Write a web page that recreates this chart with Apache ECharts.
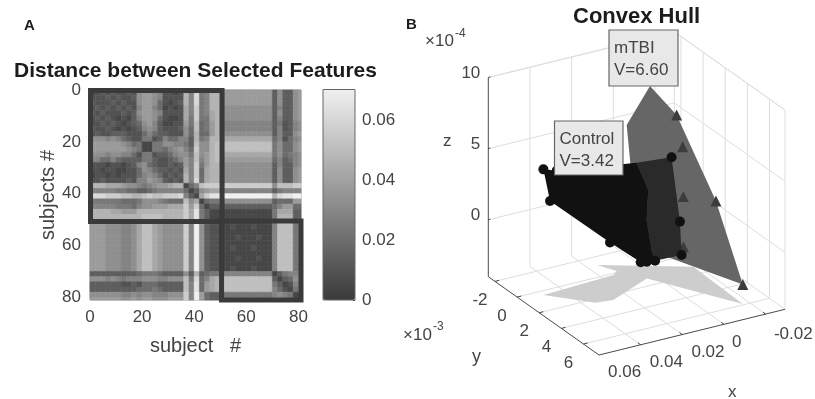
<!DOCTYPE html>
<html><head><meta charset="utf-8">
<style>html,body{margin:0;padding:0;background:#fff}#c{width:815px;height:399px;filter:blur(0.7px)}</style>
<script src="https://cdn.jsdelivr.net/npm/echarts@6/dist/echarts.min.js"></script>
</head><body><div id="c"></div>
<script>
/* ---------- panel A: distance matrix, gray level 0-f per 2-subject cell ---------- */
var matrixRows = [
"123232232788762212a6d56aa8888888888373378",
"222323223788762222a6d56aa8888888888373378",
"322232322788742123a6d56aa8888888888373378",
"23232323268864121296c56aa7777777777363378",
"32322232378876222296c569a7777777777373378",
"23232121368874211295c559a7777777777363378",
"22323212347863112285b458a6666666666352367",
"32232121236763222374b458a6666666666362367",
"23223332224643322274a448a7777777777363378",
"77767643225523644663a56aa9999999999462467",
"88888876451155776653b77abbbbbbbbbbb574478",
"88888887651155467864c77abbbbbbbbbbb574478",
"77767766425523346775b78ab9999999999574567",
"66446433335532234686b68ab8888888888463467",
"22212212367432232386c58aa7777777777363367",
"22122112247643323296c49aa7777777777373378",
"122121222467642323a6c49aa7777777777373378",
"223222232668763232a6d49aa7777777777373378",
"aaa9998776567889aa146bccccccccccccc7bbbcc",
"66666554433456666641378996666666666356666",
"dddcccbbaabcbbcccd6319ceeffffffffffadeeff",
"555555444577765444b7914557777777777344488",
"666665554677888999c8c41333333333333468844",
"aaaa99888aaaaaaaaac9e53111111111111599933",
"aaaaaaaaaabbbbaaaac9e531111111111115aaa33",
"8887776679bb987777c6f732211111111116bbb55",
"8887776679bb987777c6f732211211121116bbb55",
"8887776679bb987777c6f732211111111116bbb55",
"8887776679bb987777c6f732211121112116bbb55",
"8887776679bb987777c6f732211111111116bbb55",
"8887776679bb987777c6f732211211121116bbb55",
"8887776679bb987777c6f732211111111116bbb55",
"8887776679bb987777c6f732211121112116bbb55",
"8887776679bb987777c6f732211111111116bbb55",
"8887776679bb987777c6f732211211121116bbb55",
"33333333345554333373a34556666666666135666",
"777676566677766777b5d469abbbbbbbbbb313477",
"333333223244433333b6e489abbbbbbbbbb531266",
"333333333444543333b6e489abbbbbbbbbb642155",
"777777667677666777c6f84335555555555676511",
"888888778788777888c6f84335555555555676511"
];
var cellSize = 2, maxDistance = 0.07;
var blocks = [[0.2, 0.2, 50.7, 50.7], [50.5, 50.5, 81, 81]];

/* ---------- panel B: hull vertices (x, y e-3, z e-4) ---------- */
var mtbiX = [.0162,.0034,.0005,.0055,.0058,.0031,.0108,.0188,.0316,.0327];
var mtbiY = [0,0,0,1,4,5.92,2,2,2,1];
var mtbiZ = [8.54,6.04,3.71,.93,2.28,-2.62,-1.85,-2.26,-2.27,6.94];
var mtbiOutline = [0,1,4,5,7,8,9];
var mtbiMarked = [1,2,3,4,5,6];
var ctrlX = [.0696,.0636,.0663,.046,.0334,.0305,.0265,.0122,.0082,.0074,.029,.0234,.0242,.0218];
var ctrlY = [.42,.5,.4,2,2.4,2.4,2.4,1.2,1.2,1.2,1.2,1.2,1.2,1.2];
var ctrlZ = [4.83,4.57,2.48,-.28,-1.91,-1.98,-2.05,4.05,-.62,-2.99,4.27,2.15,.07,-2.12];
var ctrlFront = [0,1,10,11,12,13,6,5,4,3,2];
var ctrlSide = [10,7,8,9,6,13,12,11];
var ctrlMarked = [0,1,2,3,4,5,6,7,8,9];
var shadowX = [.0696,.0551,.0472,.0244,.0031,.0019,.0354,.0314,.0346];
var shadowY = [.42,2.35,2.52,1.25,5.92,1.23,-1.19,-.15,.16];
var xLim = [-0.0093, 0.08], yLim = [-2.6, 7.4], zLim = [-4, 10];
var xTicks = [0.06, 0.04, 0.02, 0];
var xTickLabels = ["0.06", "0.04", "0.02", "0", "-0.02"];
var xLabelAt = [0.06, 0.04, 0.02, 0, -0.02];
var yTicks = [-2, 0, 2, 4, 6];
var zTicks = [0, 5, 10];

function project(x, y, z) {
  return [599 + (xLim[1] - x) * 2083 + (y - yLim[1]) * 11.07,
          355 - (xLim[1] - x) * 511.7 + (y - yLim[1]) * 7.83 - (z - zLim[0]) * 14.23];
}
function pts(list, X, Y, Z) { return list.map(function (i) { return project(X[i], Y[i], Z ? Z[i] : zLim[0]); }); }

var cells = [];
matrixRows.forEach(function (row, r) {
  for (var c = 0; c < row.length; c++)
    cells.push([c * cellSize, r * cellSize, parseInt(row[c], 16) / 15 * maxDistance]);
});

var gridColor = '#dedede', axisColor = '#4a4a4a', textColor = '#444';

function polySeries(points, fill, z) {
  return { type: 'custom', coordinateSystem: 'cartesian2d', xAxisIndex: 2, yAxisIndex: 2, silent: true, z: z, data: [0],
    renderItem: function (p, api) {
      return { type: 'polygon', shape: { points: points.map(function (q) { return api.coord(q); }) }, style: { fill: fill } };
    } };
}
function scatterSeries(points, symbol, size, color, z) {
  return { type: 'scatter', xAxisIndex: 2, yAxisIndex: 2, symbol: symbol, symbolSize: size, silent: true, z: z,
    itemStyle: { color: color, opacity: 1 }, data: points };
}
function segSeries(segs, color, z) {
  return { type: 'custom', coordinateSystem: 'cartesian2d', xAxisIndex: 2, yAxisIndex: 2, silent: true, z: z, data: [0],
    renderItem: function (p, api) {
      return { type: 'group', children: segs.map(function (s) {
        var a = api.coord(s[0]), b = api.coord(s[1]);
        return { type: 'line', shape: { x1: a[0], y1: a[1], x2: b[0], y2: b[1] }, style: { stroke: color, lineWidth: 1 } };
      }) };
    } };
}
function textSeries(items, z) {
  return { type: 'custom', coordinateSystem: 'cartesian2d', xAxisIndex: 2, yAxisIndex: 2, silent: true, z: z, data: [0],
    renderItem: function (p, api) {
      return { type: 'group', children: items.map(function (t) {
        var a = api.coord(t.at);
        return { type: 'text', style: { text: t.text, x: a[0] + t.dx, y: a[1] + t.dy, fill: textColor, align: t.align || 'center', verticalAlign: 'middle',
          font: '17px "Liberation Sans", Arial, sans-serif' } };
      }) };
    } };
}

var gridSegs = [], axisSegs = [], xn = xLim[0], xm = xLim[1], yn = yLim[0], ym = yLim[1], zn = zLim[0], zm = zLim[1];
zTicks.forEach(function (z) {
  gridSegs.push([project(xm, yn, z), project(xn, yn, z)], [project(xn, yn, z), project(xn, ym, z)]);
});
gridSegs.push([project(xm, yn, zm), project(xn, yn, zm)], [project(xn, yn, zm), project(xn, ym, zm)]);
xTicks.forEach(function (x) {
  gridSegs.push([project(x, yn, zm), project(x, yn, zn)], [project(x, yn, zn), project(x, ym, zn)]);
  axisSegs.push([project(x, ym, zn), project(x, ym - 0.25, zn)]);
});
gridSegs.push([project(xn, yn, zm), project(xn, yn, zn)], [project(xn, yn, zn), project(xn, ym, zn)], [project(xn, ym, zn), project(xn, ym, zm)]);
yTicks.forEach(function (y) {
  gridSegs.push([project(xn, y, zm), project(xn, y, zn)], [project(xn, y, zn), project(xm, y, zn)]);
  axisSegs.push([project(xm, y, zn), project(xm - 0.002, y, zn)]);
});
axisSegs.push([project(xm, yn, zn), project(xm, yn, zm)], [project(xm, yn, zn), project(xm, ym, zn)], [project(xm, ym, zn), project(xn, ym, zn)]);
zTicks.forEach(function (z) { axisSegs.push([project(xm, yn, z), project(xm - 0.001, yn, z)]); });

var labels3d = [];
xLabelAt.forEach(function (x, i) {
  labels3d.push({ text: xTickLabels[i], at: project(x, ym, zn), dx: x === 0 ? -29 : (x < 0 ? -14 : -16), dy: x < 0 ? 30 : 28 });
});
yTicks.forEach(function (y) { labels3d.push({ text: String(y), at: project(xm, y, zn), dx: -15, dy: 19 }); });
zTicks.forEach(function (z) { labels3d.push({ text: String(z), at: project(xm, yn, z), dx: -8, dy: -4, align: 'right' }); });

var axisText = { color: textColor, fontSize: 17, fontFamily: '"Liberation Sans", Arial, sans-serif' };
var nameText = { color: textColor, fontSize: 20, fontFamily: '"Liberation Sans", Arial, sans-serif' };
function hidden3d(extentMax, inverse) { return { type: 'value', gridIndex: 2, min: 0, max: extentMax, inverse: inverse, show: false }; }
function subjectAxis(extra) {
  return Object.assign({ type: 'value', gridIndex: 0, min: 0, max: 81, interval: 20,
    splitLine: { show: false }, axisLine: { show: false, onZero: false }, axisTick: { inside: true, length: 2, lineStyle: { color: '#333' } },
    axisLabel: Object.assign({ showMaxLabel: false, margin: 9 }, axisText), nameLocation: 'middle', nameTextStyle: nameText }, extra);
}
function gtext(text, x, y, size, weight, color) {
  return { type: 'text', x: x, y: y, z: 100, silent: true, style: { text: text, fill: color || textColor, align: 'left', verticalAlign: 'middle',
    font: (weight || 'normal') + ' ' + size + 'px "Liberation Sans", Arial, sans-serif' } };
}
function labelBox(x, y, w, h, t1, t2) {
  return [
    { type: 'rect', z: 90, silent: true, shape: { x: x, y: y, width: w, height: h }, style: { fill: '#e8e8e8', stroke: '#666', lineWidth: 1.2 } },
    gtext(t1, x + 5, y + 18, 17), gtext(t2, x + 5, y + 40, 17)
  ];
}

var option = {
  animation: false, backgroundColor: '#fff',
  grid: [
    { left: 90, top: 90, width: 211, height: 210, show: true, borderColor: '#999', borderWidth: 1, backgroundColor: 'transparent' },
    { left: 323, top: 89.5, width: 32, height: 210.5, show: true, borderColor: '#666', borderWidth: 1, backgroundColor: 'transparent', z: 6 },
    { left: 0, top: 0, width: 815, height: 399 }
  ],
  xAxis: [
    subjectAxis({ name: 'subject   #', nameGap: 36 }),
    { type: 'value', gridIndex: 1, show: false, min: 0, max: 1 },
    hidden3d(815, false)
  ],
  yAxis: [
    subjectAxis({ inverse: true, name: 'subjects #', nameGap: 31 }),
    { type: 'value', gridIndex: 1, position: 'right', min: 0, max: 0.0704, interval: 0.02,
      splitLine: { show: false }, axisLine: { show: false, onZero: false }, axisTick: { inside: true, length: 2, lineStyle: { color: '#333' } },
      axisLabel: Object.assign({ showMaxLabel: false, margin: 7, formatter: function (v) { return v === 0 ? '0' : v.toFixed(2); } }, axisText) },
    hidden3d(399, true)
  ],
  visualMap: [{ type: 'continuous', seriesIndex: 0, dimension: 2, min: 0, max: maxDistance, calculable: false, hoverLink: false,
    left: 323, top: 89.5, itemWidth: 32, itemHeight: 210.5, padding: 0, z: 1, realtime: false,
    inRange: { color: ['#3a3a3a', '#f0f0f0'] }, textStyle: { fontSize: 1 }, text: null }],
  title: [
    { text: 'Distance between Selected Features', left: 14, top: 61, padding: 0, textStyle: { fontSize: 21, fontWeight: 'bold', color: '#1c1c1c', fontFamily: '"Liberation Sans", Arial, sans-serif' } },
    { text: 'Convex Hull', left: 573, top: 6, padding: 0, textStyle: { fontSize: 22, fontWeight: 'bold', color: '#1c1c1c', fontFamily: '"Liberation Sans", Arial, sans-serif' } }
  ],
  graphic: [
    gtext('A', 24, 26, 15, 'bold', '#1c1c1c'), gtext('B', 406, 25, 15, 'bold', '#1c1c1c'),
    gtext('z', 443, 141, 17), gtext('y', 472, 357, 18), gtext('x', 728, 392, 17),
    gtext('×10', 425, 41, 17), gtext('-4', 455, 34, 12),
    gtext('×10', 403, 335, 17), gtext('-3', 433, 327, 12)
  ].concat(labelBox(609, 30, 69, 56, 'mTBI', 'V=6.60'), labelBox(554.5, 121, 68.5, 54, 'Control', 'V=3.42')),
  series: [
    { type: 'custom', xAxisIndex: 0, yAxisIndex: 0, silent: true, z: 2, data: cells, encode: { x: 0, y: 1 }, dimensions: ['x', 'y', 'value'],
      renderItem: function (p, api) {
        var a = api.coord([api.value(0), api.value(1)]), b = api.coord([api.value(0) + cellSize, api.value(1) + cellSize]);
        var s = p.coordSys, color = api.visual('color');
        var rect = echarts.graphic.clipRectByRect({ x: a[0], y: a[1], width: b[0] - a[0], height: b[1] - a[1] }, { x: s.x, y: s.y, width: s.width, height: s.height });
        return rect && { type: 'rect', shape: rect, style: { fill: color, stroke: color, lineWidth: 0.6 } };
      } },
    { type: 'custom', xAxisIndex: 0, yAxisIndex: 0, silent: true, z: 3, data: blocks,
      renderItem: function (p, api) {
        var a = api.coord([api.value(0), api.value(1)]), b = api.coord([api.value(2), api.value(3)]);
        return { type: 'rect', shape: { x: a[0], y: a[1], width: b[0] - a[0], height: b[1] - a[1] }, style: { fill: 'none', stroke: '#3a3a3a', lineWidth: 5 } };
      } },
    segSeries(gridSegs, gridColor, 2),
    polySeries(pts(shadowX.map(function (_, i) { return i; }), shadowX, shadowY), '#cdcdcd', 3),
    polySeries(pts(mtbiOutline, mtbiX, mtbiY, mtbiZ), '#666666', 4),
    scatterSeries(pts(mtbiMarked, mtbiX, mtbiY, mtbiZ), 'triangle', 11, '#3c3c3c', 5),
    polySeries(pts(ctrlSide, ctrlX, ctrlY, ctrlZ), '#2a2a2a', 6),
    polySeries(pts(ctrlFront, ctrlX, ctrlY, ctrlZ), '#111111', 7),
    scatterSeries(pts(ctrlMarked, ctrlX, ctrlY, ctrlZ), 'circle', 10, '#111111', 8),
    segSeries(axisSegs, axisColor, 9),
    textSeries(labels3d, 10)
  ]
};
var chart = echarts.init(document.getElementById('c'), null, { width: 815, height: 399 });
chart.setOption(option);
</script></body></html>
